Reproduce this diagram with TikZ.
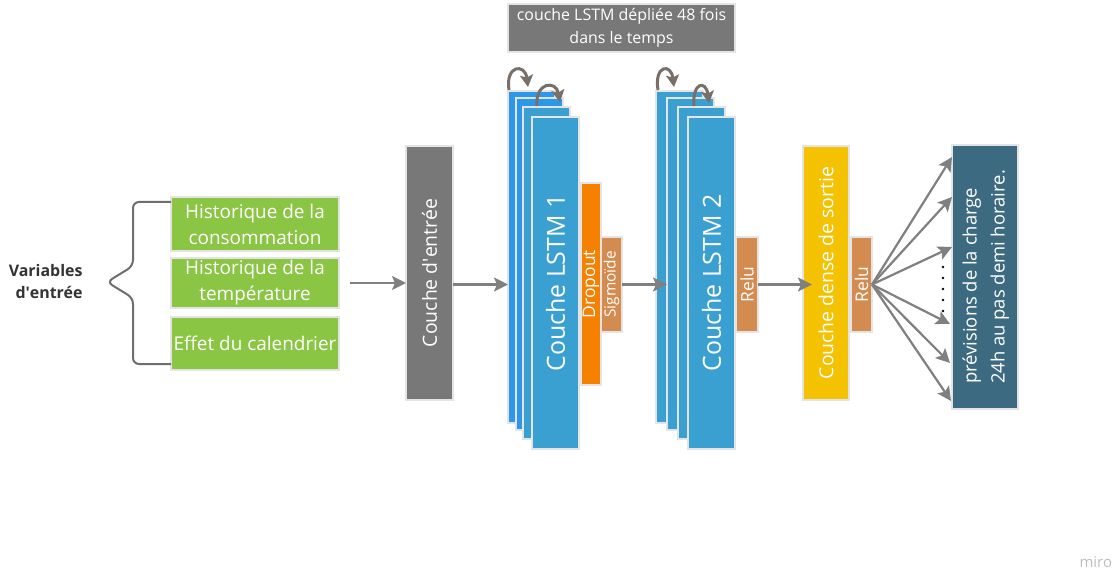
\documentclass[tikz,border=0pt]{standalone}
\usepackage{fontspec}
\setmainfont{Open Sans}
\usepackage{graphicx}
\usetikzlibrary{arrows.meta,calc}
\definecolor{boxgray}{RGB}{120,120,120}
\definecolor{ingreen}{RGB}{139,197,68}
\definecolor{bluebright}{RGB}{45,152,234}
\definecolor{bluemain}{RGB}{58,160,210}
\definecolor{droporange}{RGB}{246,128,0}
\definecolor{acttan}{RGB}{211,139,80}
\definecolor{denseyellow}{RGB}{244,194,0}
\definecolor{outteal}{RGB}{60,106,128}
\definecolor{arrowgray}{RGB}{128,128,128}
\definecolor{loopgray}{RGB}{120,112,104}
\definecolor{edgelight}{RGB}{228,228,228}
\definecolor{bracegray}{RGB}{110,110,110}
\definecolor{labeldark}{RGB}{51,51,51}
\definecolor{watermark}{RGB}{190,190,190}
\begin{document}
\begin{tikzpicture}[x=1bp,y=-1bp,
  blk/.style={draw=edgelight, line width=1.2bp, inner sep=0pt, outer sep=0pt, anchor=north west, text=white},
  arr/.style={draw=arrowgray, line width=2.2bp, -{Stealth[length=14bp,width=14bp,inset=3bp]}},
  rec/.style={draw=loopgray, line width=3bp, -{Stealth[length=12bp,width=13bp,inset=2.5bp]}},
  greenbox/.style={blk, fill=ingreen, minimum width=168bp, align=center, font=\fontsize{19}{26}\selectfont},
  layerA/.style={blk, fill=bluebright, minimum width=47bp, minimum height=332bp},
  layerB/.style={blk, fill=bluemain, minimum width=47bp, minimum height=332bp},
  actbox/.style={blk, fill=acttan, minimum width=21bp, minimum height=95bp},
]
\fill[white] (0,0) rectangle (1116,569);
\useasboundingbox (0,0) rectangle (1116,569);

% inputs
\node[greenbox, minimum height=54bp] (g1) at (171,197) {Historique de la\\consommation};
\node[greenbox, minimum height=50bp] (g2) at (171,258) {Historique de la\\température};
\node[greenbox, minimum height=53bp] (g3) at (171,317) {Effet du calendrier};
\draw[bracegray, line width=2bp, rounded corners=6bp]
  ($(g1.north west)+(0,5)$) -- (133,202) -- (133,266) -- (107,282) -- (133,298) -- (133,364) -- ($(g3.south west)+(0,-6)$);
\node[anchor=east, align=right, text=labeldark, font=\bfseries\fontsize{16}{23}\selectfont] (vars) at (86,281.5) {Variables\\d\textquotesingle entrée};

% input layer
\node[blk, fill=boxgray, minimum width=47bp, minimum height=254bp, font=\fontsize{19.5}{24}\selectfont] (inp) at (406,146) {\rotatebox{90}{Couche d\textquotesingle entrée}};

% title
\node[blk, fill=boxgray, minimum width=227bp, minimum height=48bp, align=center, font=\fontsize{16}{23}\selectfont] (title) at (508,4) {couche LSTM dépliée 48 fois\\dans le temps};

% LSTM 1
\node[layerA] (l1a) at (508,91) {};
\node[layerA] (l1b) at (516,98) {};
\node[layerB] (l1c) at (523,107) {};
\node[layerB, font=\fontsize{25}{30}\selectfont] (l1d) at (532,117) {\rotatebox{90}{Couche LSTM 1}};
\node[blk, fill=droporange, minimum width=20bp, minimum height=202bp, font=\fontsize{17.5}{20}\selectfont] (drop) at (581,183) {\rotatebox{90}{Dropout}};
\node[actbox, font=\fontsize{15.5}{18}\selectfont] (sig) at (601,237) {\rotatebox{90}{Sigmoïde}};

% LSTM 2
\node[layerB] (l2a) at (656,91) {};
\node[layerB] (l2b) at (667,98) {};
\node[layerB] (l2c) at (678,107) {};
\node[layerB, font=\fontsize{25}{30}\selectfont] (l2d) at (688,117) {\rotatebox{90}{Couche LSTM 2}};
\node[actbox, minimum width=22bp, font=\fontsize{17.5}{20}\selectfont] (relu1) at (736,237) {\rotatebox{90}{Relu}};

% dense
\node[blk, fill=denseyellow, minimum width=46bp, minimum height=254bp, font=\fontsize{19.5}{24}\selectfont] (dense) at (803,146) {\rotatebox{90}{Couche dense de sortie}};
\node[actbox, font=\fontsize{17.5}{20}\selectfont] (relu2) at (851,237) {\rotatebox{90}{Relu}};

% output
\node[blk, fill=outteal, minimum width=66bp, minimum height=264bp, font=\fontsize{18.5}{28}\selectfont] (out) at (952,145)
  {\rotatebox{90}{\begin{tabular}{@{}l@{}}prévisions de la charge\\24h au pas demi horaire.\end{tabular}}};

% recurrent loops
\draw[rec] ($(l1a.north west)+(1,-1)$) .. controls ($(l1a.north west)+(-3,-26)$) and ($(l1a.north west)+(17,-28)$) .. ($(l1a.north west)+(20,-4)$);
\draw[rec] ($(l1c.north west)+(14,-1)$) .. controls ($(l1c.north west)+(12,-25)$) and ($(l1c.north west)+(33,-27)$) .. ($(l1c.north west)+(37,-5)$);
\draw[rec] ($(l2a.north west)+(2,-1)$) .. controls ($(l2a.north west)+(-2,-26)$) and ($(l2a.north west)+(15,-28)$) .. ($(l2a.north west)+(18,-4)$);
\draw[rec] ($(l2c.north west)+(16,-1)$) .. controls ($(l2c.north west)+(14,-25)$) and ($(l2c.north west)+(28,-27)$) .. ($(l2c.north west)+(31,-4)$);

% connectors
\draw[arr] ($(g2.east)+(11,0)$) -- (inp.west |- g2.east);
\draw[arr] (inp.east |- sig.east) -- (l1a.west |- sig.east);
\draw[arr] (sig.east) -- (l2b.west |- sig.east);
\draw[arr] (relu1.east) -- ($(dense.west |- relu1.east)+(9,0)$);

\coordinate (t1) at (952,157);
\coordinate (t2) at (952,197);
\coordinate (t3) at (952,247);
\coordinate (t4) at (950,324);
\coordinate (t5) at (950,363);
\coordinate (t6) at (951,401);
\foreach \t in {t1,t2,t3,t4,t5,t6} \draw[arr] (relu2.east) -- (\t);
\foreach \yy in {267,278,289,300,311} \fill[black] (943,\yy) circle (1.3bp);

\node[anchor=west, text=watermark, font=\fontsize{15}{18}\selectfont] (miro) at (1076,562) {miro};
\end{tikzpicture}
\end{document}
